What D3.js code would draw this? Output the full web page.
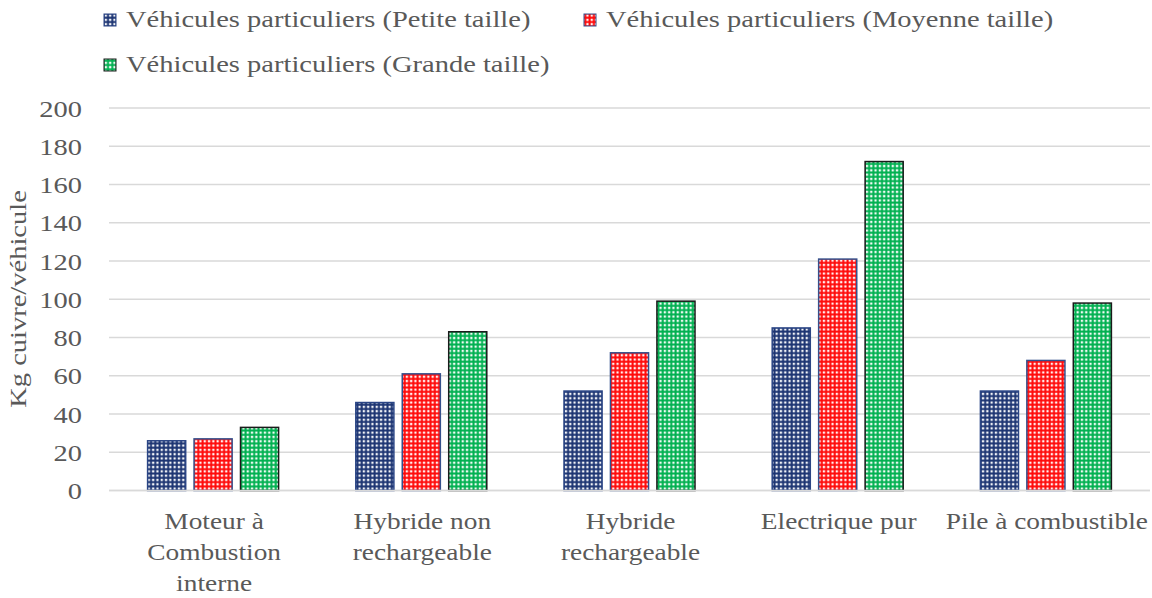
<!DOCTYPE html>
<html><head><meta charset="utf-8">
<script src="https://cdn.jsdelivr.net/npm/d3@7"></script>
<style>body{margin:0;background:#fff}svg{display:block}</style>
</head><body>
<svg id="c" width="1152" height="598"></svg>
<script>
const categories = [["Moteur à","Combustion","interne"],["Hybride non","rechargeable"],["Hybride","rechargeable"],["Electrique pur"],["Pile à combustible"]];
const seriesNames = ["Véhicules particuliers (Petite taille)","Véhicules particuliers (Moyenne taille)","Véhicules particuliers (Grande taille)"];
const petite = [26, 46, 52, 85, 52];
const moyenne = [27, 61, 72, 121, 68];
const grande = [33, 83, 99, 172, 98];
const yTicks = [0,20,40,60,80,100,120,140,160,180,200];
const yTitle = "Kg cuivre/véhicule";

const seriesData = [petite, moyenne, grande];
const fills = ["#1c3472","#ff0a0a","#00b050"];
const strokes = ["#2a4585","#34508c","#1a1a1a"];
const txt = "#595959";
const FF = '"Liberation Serif", "Times New Roman", serif';
const fs = 23;
const sx = 1.24;
const sxCat = 1.19;

const svg = d3.select("#c");
const defs = svg.append("defs");
fills.forEach((c,i)=>{
  const p = defs.append("pattern").attr("id","p"+i).attr("patternUnits","userSpaceOnUse")
    .attr("width",4.3).attr("height",4.3);
  p.append("rect").attr("width",4.3).attr("height",4.3).attr("fill",c);
  p.append("rect").attr("x",1.5).attr("y",1.5).attr("width",2.3).attr("height",2.3).attr("fill","#fff").attr("opacity",0.95);
});

function label(parent, x, y, s, anchor, rot, scx){
  return parent.append("text")
    .attr("transform",`translate(${x},${y})${rot?` rotate(${rot})`:""} scale(${scx||sx},1)`)
    .attr("text-anchor",anchor||"start")
    .style("font-family",FF).style("font-size",fs+"px").attr("fill",txt).text(s);
}

const x = d3.scaleBand().domain(d3.range(categories.length)).range([109,1150]).padding(0);
const groupW = 131;
const xs = d3.scaleBand().domain(d3.range(3)).range([0,groupW]).paddingInner(0.18).paddingOuter(0);
const y = d3.scaleLinear().domain([0,200]).range([490.5,108]);

svg.append("g").selectAll("line").data(yTicks).join("line")
  .attr("x1",109).attr("x2",1150).attr("y1",d=>y(d)).attr("y2",d=>y(d))
  .attr("stroke","#d9d9d9").attr("stroke-width",1.3);

const ya = svg.append("g").attr("transform","translate(82,0)")
  .call(d3.axisLeft(y).tickValues(yTicks).tickSize(0).tickPadding(0));
ya.select(".domain").remove();
ya.selectAll("text").attr("x",0).attr("dy","0.35em").attr("transform",`scale(${sx},1)`)
  .style("font-family",FF).style("font-size",fs+"px").attr("fill",txt);

seriesData.forEach((vals,si)=>{
  svg.append("g").selectAll("rect").data(vals).join("rect")
    .attr("x",(d,i)=>x(i)+(x.bandwidth()-groupW)/2+xs(si))
    .attr("width",xs.bandwidth())
    .attr("y",d=>y(d)).attr("height",d=>y(0)-y(d))
    .attr("fill","url(#p"+si+")").attr("stroke",strokes[si]).attr("stroke-width",1.5);
});

svg.append("line").attr("x1",109).attr("x2",1150).attr("y1",y(0)).attr("y2",y(0))
  .attr("stroke","#d9d9d9").attr("stroke-width",1.5);

const cl = svg.append("g");
categories.forEach((lines,i)=>{
  lines.forEach((l,j)=>{
    label(cl, x(i)+x.bandwidth()/2 + 1, 529+j*31, l, "middle", 0, sxCat);
  });
});

label(svg, 26, 299, yTitle, "middle", -90);

const legPos = [[104,27],[584,27],[104,72]];
seriesNames.forEach((n,i)=>{
  const g = svg.append("g");
  g.append("rect").attr("x",legPos[i][0]).attr("y",legPos[i][1]-13).attr("width",12).attr("height",12)
    .attr("fill","url(#p"+i+")").attr("stroke",strokes[i]).attr("stroke-width",1);
  label(g, legPos[i][0]+22, legPos[i][1], n, "start");
});
</script>
</body></html>
